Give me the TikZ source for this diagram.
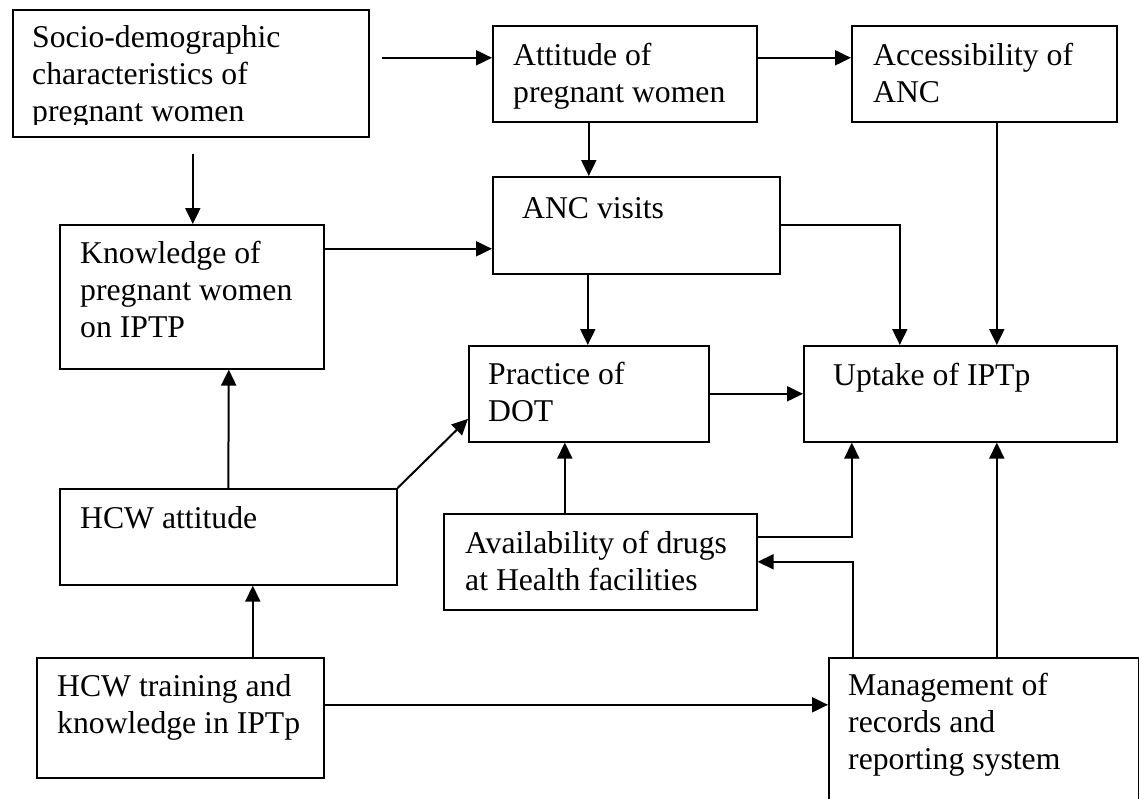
\documentclass[tikz,border=0pt]{standalone}
\usepackage{fontspec}
\setmainfont{Liberation Serif}
\usetikzlibrary{arrows.meta}
\begin{document}
\begin{tikzpicture}[x=1pt,y=-1pt,
  box/.style={draw, line width=1.6pt, rectangle, inner sep=0pt, anchor=north west},
  txt/.style={inner sep=0pt, anchor=base west, align=left, font=\fontsize{31.7}{37}\selectfont},
  arr/.style={line width=2pt, -{Triangle[length=16pt,width=15pt]}},
  ln/.style={line width=2pt}]
\useasboundingbox (0,0) rectangle (1139,798);
% boxes
\node[box, minimum width=356pt, minimum height=127pt] (soc) at (12,9) {};
\node[box, minimum width=264pt, minimum height=96pt] (att) at (492,25) {};
\node[box, minimum width=265pt, minimum height=96pt] (acc) at (851,25) {};
\node[box, minimum width=287pt, minimum height=97pt] (anc) at (492,176) {};
\node[box, minimum width=264pt, minimum height=144pt] (kno) at (59,224) {};
\node[box, minimum width=240pt, minimum height=96pt] (dot) at (468,345) {};
\node[box, minimum width=313pt, minimum height=96pt] (upt) at (803,345) {};
\node[box, minimum width=337pt, minimum height=96pt] (hca) at (59,488) {};
\node[box, minimum width=313pt, minimum height=96pt] (ava) at (443,513) {};
\node[box, minimum width=287pt, minimum height=120pt] (trn) at (36,657) {};
\node[box, minimum width=310pt, minimum height=160pt] (mgt) at (828,657) {};
% texts (anchor = baseline of the last line)
\begin{scope}
\clip (12,9) rectangle (368,124);
\node[txt] (socT) at (32,121) {Socio-demographic\\characteristics of\\pregnant women};
\end{scope}
\node[txt] (attT) at (513,102) {Attitude of\\pregnant women};
\node[txt] (accT) at (873,102) {Accessibility of\\ANC};
\node[txt] (ancT) at (522,218) {ANC visits};
\node[txt] (knoT) at (80,337) {Knowledge of\\pregnant women\\on IPTP};
\node[txt] (hcaT) at (80,528) {HCW attitude};
\node[txt] (dotT) at (488,421) {Practice of\\DOT};
\node[txt] (uptT) at (833,385) {Uptake of IPTp};
\node[txt] (avaT) at (465,590) {Availability of drugs\\at Health facilities};
\node[txt] (trnT) at (57,733) {HCW training and\\knowledge in IPTp};
\node[txt] (mgtT) at (848,769) {Management of\\records and\\reporting system};
% connectors
\draw[arr] ([xshift=12pt,yshift=15.5pt]soc.east) -- ([yshift=16pt]att.west);
\draw[arr] ([yshift=16pt]att.east) -- ([yshift=16pt]acc.west);
\draw[arr] ([xshift=-36pt]att.south) -- ([xshift=-47.5pt]anc.north);
\draw[arr] ([xshift=2pt,yshift=-16pt]soc.south) -- ([xshift=1pt]kno.north);
\draw[arr] ([yshift=48pt]kno.east) -- ([yshift=-23.5pt]anc.west);
\draw[arr] ([xshift=-48.5pt]anc.south) -- ([xshift=-1pt]dot.north);
\draw[arr] (anc.east) -| ([xshift=-60.5pt]upt.north);
\draw[arr] ([xshift=12.5pt]acc.south) -- ([xshift=36.5pt]upt.north);
\draw[arr] (dot.east) -- (upt.west);
\draw[arr] (hca.north east) -- ([yshift=-25pt]dot.west);
\draw[arr] (hca.north) -- ([xshift=37pt]kno.south);
\draw[arr] ([xshift=72.5pt]trn.north) -- ([xshift=24.5pt]hca.south);
\draw[arr] ([yshift=13pt]trn.east) -- ([yshift=33pt]mgt.west);
\draw[arr] ([xshift=-35.5pt]ava.north) -- ([xshift=-24pt]dot.south);
\draw[arr] ([yshift=25pt]ava.east) -| ([xshift=-108.5pt]upt.south);
\draw[arr] ([xshift=-131pt]mgt.north) |- (ava.east);
\draw[arr] ([xshift=13pt]mgt.north) -- ([xshift=36.5pt]upt.south);
\end{tikzpicture}
\end{document}
